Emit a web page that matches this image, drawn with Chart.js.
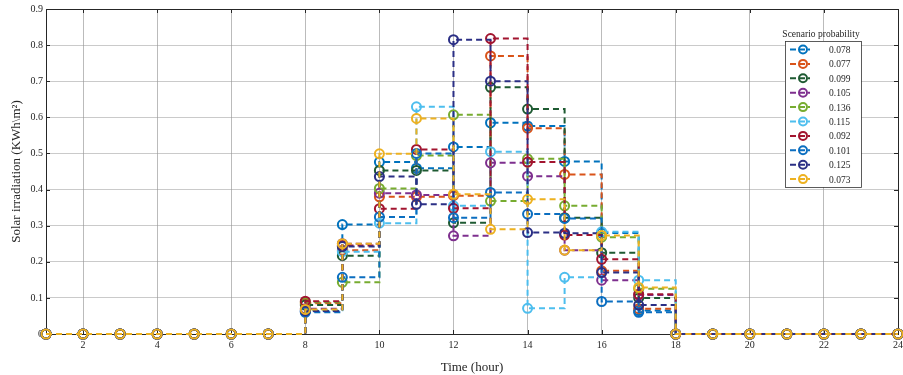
<!DOCTYPE html>
<html><head><meta charset="utf-8">
<script src="https://cdn.jsdelivr.net/npm/chart.js@4.4.1/dist/chart.umd.min.js"></script>
<style>
html,body{margin:0;padding:0;background:#fff;overflow:hidden;width:903px;height:375px;}
#wrap{width:910px;height:375px;position:relative;}
</style></head>
<body><div id="wrap"><canvas id="c" width="910" height="375"></canvas></div>
<script>
const hours = [1,2,3,4,5,6,7,8,9,10,11,12,13,14,15,16,17,18,19,20,21,22,23,24];
const xTicks = [2,4,6,8,10,12,14,16,18,20,22,24];
const probLabels = ['0.078','0.077','0.099','0.105','0.136','0.115','0.092','0.101','0.125','0.073'];
const colors = ['#0072BD','#D95319','#1E5A32','#7E2F8E','#77AC30','#4DBEEE','#A2142F','#0B6EC0','#2B2F85','#EDB120'];
//                          1 2 3 4 5 6 7  8     9     10    11    12    13    14    15    16    17    18..24
const s1  = [0,0,0,0,0,0,0,0.062,0.303,0.476,0.459,0.518,0.585,0.576,0.478,0.280,0.065,0,0,0,0,0,0,0];
const s2  = [0,0,0,0,0,0,0,0.085,0.232,0.380,0.380,0.383,0.770,0.570,0.442,0.175,0.070,0,0,0,0,0,0,0];
const s3  = [0,0,0,0,0,0,0,0.080,0.217,0.453,0.453,0.308,0.683,0.623,0.322,0.225,0.100,0,0,0,0,0,0,0];
const s4  = [0,0,0,0,0,0,0,0.070,0.250,0.390,0.385,0.272,0.474,0.437,0.232,0.149,0.108,0,0,0,0,0,0,0];
const s5  = [0,0,0,0,0,0,0,0.088,0.143,0.403,0.494,0.607,0.368,0.485,0.355,0.268,0.125,0,0,0,0,0,0,0];
const s6  = [0,0,0,0,0,0,0,0.066,0.228,0.307,0.629,0.355,0.505,0.071,0.157,0.283,0.149,0,0,0,0,0,0,0];
const s7  = [0,0,0,0,0,0,0,0.091,0.245,0.347,0.511,0.348,0.818,0.476,0.274,0.207,0.110,0,0,0,0,0,0,0];
const s8  = [0,0,0,0,0,0,0,0.060,0.157,0.324,0.500,0.322,0.392,0.332,0.320,0.090,0.060,0,0,0,0,0,0,0];
const s9  = [0,0,0,0,0,0,0,0.064,0.242,0.436,0.359,0.815,0.700,0.281,0.279,0.170,0.080,0,0,0,0,0,0,0];
const s10 = [0,0,0,0,0,0,0,0.068,0.250,0.499,0.597,0.387,0.290,0.373,0.232,0.273,0.129,0,0,0,0,0,0,0];
const seriesList = [s1,s2,s3,s4,s5,s6,s7,s8,s9,s10];

const FONT = '"Liberation Serif","DejaVu Serif",serif';

const datasets = seriesList.map((s,i)=>({
  label: probLabels[i],
  data: hours.map((h,k)=>({x:h,y:s[k]})),
  borderColor: colors[i],
  backgroundColor: 'rgba(0,0,0,0)',
  borderWidth: 2,
  borderDash: [6,4],
  stepped: 'before',
  pointRadius: 4.5,
  pointBorderWidth: 2,
  pointBackgroundColor: 'rgba(0,0,0,0)',
  pointBorderColor: colors[i],
  order: seriesList.length - i,
  clip: 8
}));

const boxPlugin = {
  id:'box',
  beforeDatasetsDraw(chart){
    const a = chart.chartArea, ctx = chart.ctx;
    ctx.save();
    ctx.strokeStyle = '#262626'; ctx.lineWidth = 1;
    ctx.strokeRect(Math.round(a.left)+0.5, Math.round(a.top)+0.5, Math.round(a.right-a.left), Math.round(a.bottom-a.top));
    const xs = chart.scales.x, ys = chart.scales.y;
    ctx.beginPath();
    xTicks.forEach(t=>{const px=Math.round(xs.getPixelForValue(t))+0.5; ctx.moveTo(px,a.bottom); ctx.lineTo(px,a.bottom-4); ctx.moveTo(px,a.top); ctx.lineTo(px,a.top+4);});
    ys.ticks.forEach(t=>{const py=Math.round(ys.getPixelForValue(t.value))+0.5; ctx.moveTo(a.left,py); ctx.lineTo(a.left+4,py); ctx.moveTo(a.right,py); ctx.lineTo(a.right-4,py);});
    ctx.stroke();
    ctx.restore();
  }
};

const legendPlugin = {
  id:'customLegend',
  afterDraw(chart){
    const ctx = chart.ctx;
    const left = 785, top = 41, w = 76, rowH = 14.4, n = datasets.length;
    const h = rowH*n + 2;
    ctx.save();
    ctx.font = '9.5px ' + FONT;
    ctx.fillStyle = '#262626';
    ctx.textAlign = 'center'; ctx.textBaseline = 'alphabetic';
    ctx.fillText('Scenario probability', left + w/2 - 2, top - 4);
    ctx.fillStyle = '#fff';
    ctx.fillRect(left, top, w, h);
    ctx.strokeStyle = '#333'; ctx.lineWidth = 0.8;
    ctx.strokeRect(left+0.5, top+0.5, w, h);
    datasets.forEach((d,i)=>{
      const y = top + 8.5 + i*rowH;
      ctx.strokeStyle = d.borderColor; ctx.lineWidth = 2;
      ctx.setLineDash([6,3]);
      ctx.beginPath(); ctx.moveTo(790,y); ctx.lineTo(810,y); ctx.stroke();
      ctx.setLineDash([]);
      ctx.beginPath(); ctx.arc(803,y,4,0,Math.PI*2); ctx.stroke();
      ctx.fillStyle = '#262626';
      ctx.font = '9.5px ' + FONT;
      ctx.textAlign = 'left'; ctx.textBaseline = 'middle';
      ctx.fillText(d.label, 829, y+1);
    });
    ctx.restore();
  }
};

new Chart(document.getElementById('c'), {
  type:'line',
  data:{datasets},
  options:{
    responsive:false,
    animation:false,
    events:[],
    layout:{padding:{top:9,right:12,left:0,bottom:0}},
    plugins:{legend:{display:false},tooltip:{enabled:false}},
    scales:{
      x:{
        type:'linear', min:1, max:24,
        afterBuildTicks(s){ s.ticks = xTicks.map(v=>({value:v})); },
        afterFit(s){ s.height = 41; },
        grid:{color:'rgba(120,120,120,0.5)', lineWidth:1, drawTicks:false},
        border:{display:true,color:'#262626'},
        ticks:{font:{family:FONT,size:10},color:'#262626',padding:5, maxRotation:0, autoSkip:false},
        title:{display:true,text:'Time (hour)',font:{family:FONT,size:13},color:'#262626',padding:{top:2,bottom:0}}
      },
      y:{
        min:0, max:0.9,
        afterFit(s){ s.width = 46; },
        grid:{color:'rgba(150,150,150,0.5)', lineWidth:1, drawTicks:false},
        border:{display:true,color:'#262626'},
        ticks:{stepSize:0.1,font:{family:FONT,size:10},color:'#262626',padding:3,
          callback:(v)=>Number(v.toFixed(1)).toString()},
        title:{display:true,text:'Solar irradiation (KWh\\m²)',font:{family:FONT,size:13},color:'#262626',padding:{top:9,bottom:4}}
      }
    }
  },
  plugins:[boxPlugin, legendPlugin]
});
</script>
</body></html>
